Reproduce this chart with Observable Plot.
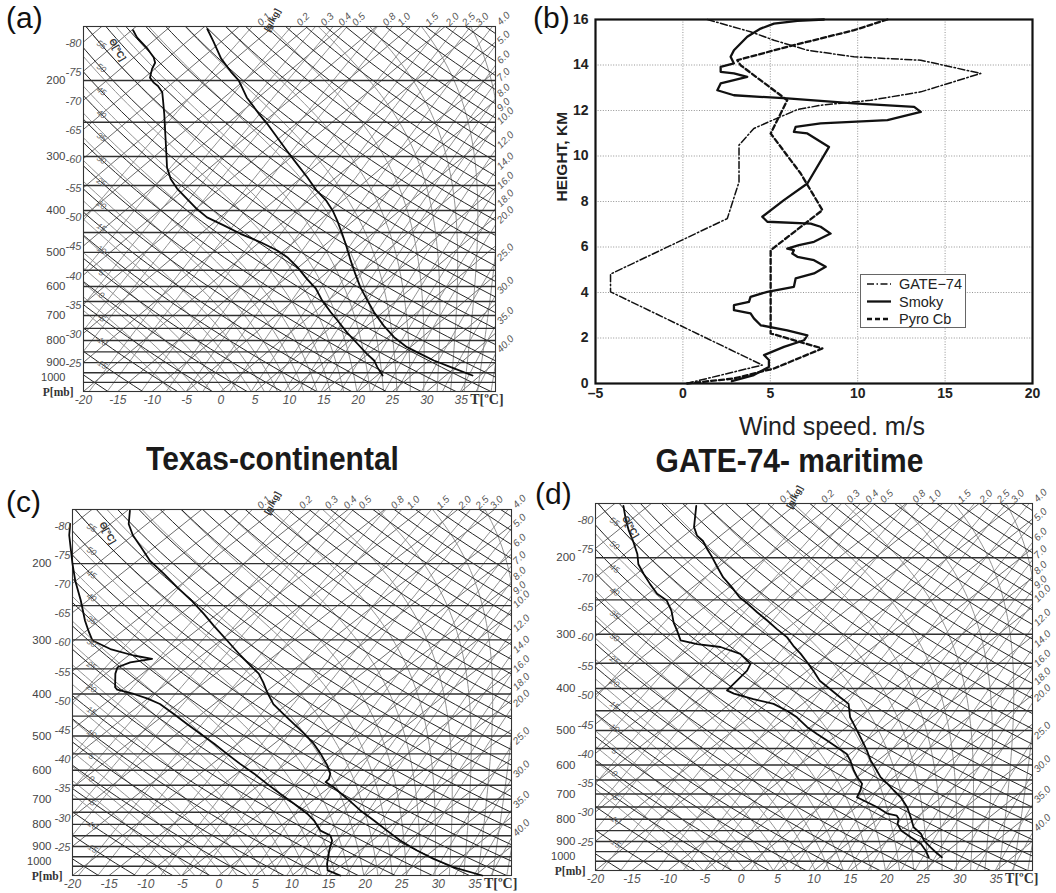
<!DOCTYPE html>
<html>
<head>
<meta charset="utf-8">
<script src="https://cdn.jsdelivr.net/npm/d3@7"></script>
<script src="https://cdn.jsdelivr.net/npm/@observablehq/plot@0.6"></script>
<style>
html,body{margin:0;padding:0;background:#fff;}
#root{position:relative;width:1056px;height:893px;overflow:hidden;background:#fff;font-family:Arial,"Liberation Sans",Helvetica,sans-serif;color:#111;}
.panel{position:absolute;}
.panel svg{overflow:visible;}
.lbl{position:absolute;white-space:nowrap;line-height:1;}
</style>
</head>
<body>
<div id="root"></div>
<script>
// ================= DATA =================
// skew-T axis values
const isobarLevels = [200,250,300,350,400,450,500,550,600,650,700,750,800,850,900,950,1000];
const pressureTickLabels = [200,300,400,500,600,700,800,900,1000];
const isothermLabelValues = [-80,-75,-70,-65,-60,-55,-50,-45,-40,-35,-30,-25];
const bottomTickValues = [-20,-15,-10,-5,0,5,10,15,20,25,30,35];
const mixingTopLabels = [0.1,0.2,0.3,0.4,0.5,0.8,1.0,1.5,2.0,2.5,3.0];
const mixingRightLabels = [4.0,5.0,6.0,7.0,8.0,9.0,10.0,12.0,14.0,16.0,18.0,20.0,25.0,30.0,35.0,40.0];
const dryAdiabatLabels = [-15,-10,-5,0,5,10,15,20,25,30,35,40,45,50,55];

// panel (a) sounding: [pressure hPa, temperature °C]
const panelA_temperature = [[152,-64.2],[162,-61.3],[178,-57.1],[191,-53.4],[200,-50.8],[209,-48.8],[219,-46.7],[239,-42.1],[252,-39.2],[271,-35.4],[291,-31.7],[312,-28.0],[335,-24.2],[360,-20.5],[379,-17.5],[400,-14.8],[422,-12.4],[453,-9.4],[487,-6.4],[522,-3.6],[561,-0.6],[602,2.4],[646,5.7],[688,8.7],[739,12.4],[786,15.9],[829,19.5],[859,22.6],[890,25.7],[922,29.3],[964,33.9]];
const panelA_dewpoint = [[153,-74.8],[159,-73.0],[168,-69.8],[177,-67.1],[182,-66.0],[188,-65.4],[197,-64.2],[202,-62.9],[206,-61.6],[213,-59.9],[223,-58.3],[239,-55.9],[266,-52.3],[296,-48.7],[318,-46.3],[338,-43.8],[356,-41.2],[376,-38.0],[397,-34.8],[415,-31.9],[433,-28.1],[453,-24.2],[474,-19.8],[495,-16.0],[513,-13.4],[541,-10.2],[576,-6.8],[607,-3.8],[646,-0.9],[688,2.4],[719,4.8],[766,8.2],[814,11.7],[859,14.8],[890,17.0],[922,18.6],[964,20.8]];

// panel (c) sounding
const panelC_temperature = [[151,-74.6],[162,-72.5],[172,-70.0],[183,-66.9],[197,-63.3],[211,-59.2],[227,-55.0],[243,-50.9],[261,-46.9],[278,-43.5],[301,-39.1],[326,-34.7],[344,-31.6],[359,-29.1],[376,-27.0],[396,-24.8],[422,-21.9],[445,-18.8],[469,-15.7],[494,-12.6],[521,-9.6],[550,-6.9],[585,-4.0],[611,-2.2],[628,-1.5],[639,-1.4],[657,0.6],[698,4.4],[743,8.2],[784,11.8],[827,15.3],[872,18.8],[919,22.8],[961,26.5],[1005,30.7],[1050,36.0]];
const panelC_dewpoint = [[162,-80.5],[172,-78.7],[200,-73.4],[219,-70.1],[243,-66.0],[271,-61.9],[288,-59.4],[301,-57.5],[315,-53.6],[326,-49.3],[332,-46.2],[338,-48.6],[347,-49.5],[359,-48.7],[386,-46.4],[391,-45.7],[400,-42.7],[410,-40.0],[422,-37.4],[445,-33.8],[469,-30.3],[494,-26.8],[521,-23.2],[550,-19.7],[580,-16.2],[611,-12.6],[645,-9.1],[680,-5.6],[717,-2.0],[756,1.5],[784,3.6],[827,6.2],[849,8.4],[872,9.5],[919,10.8],[987,12.8],[1022,14.0],[1050,16.6]];

// panel (d) sounding
const panelD_temperature = [[152,-68.4],[170,-65.1],[178,-63.2],[183,-61.5],[192,-59.3],[198,-57.8],[210,-55.1],[222,-52.5],[234,-49.6],[247,-46.8],[255,-44.7],[267,-41.9],[279,-39.1],[292,-36.3],[305,-33.5],[319,-31.2],[333,-28.8],[348,-26.5],[364,-24.2],[384,-21.6],[401,-18.8],[419,-16.0],[434,-13.7],[466,-11.2],[491,-8.8],[527,-5.6],[556,-3.2],[586,-1.0],[612,1.1],[640,3.2],[663,5.3],[687,7.3],[712,9.4],[751,12.0],[792,14.2],[835,16.3],[864,18.4],[896,20.0],[928,22.0],[953,23.6],[979,25.3]];
const panelD_dewpoint = [[152,-78.4],[164,-75.6],[173,-73.5],[183,-71.1],[196,-68.3],[207,-66.4],[218,-64.0],[230,-61.4],[242,-58.8],[251,-56.3],[265,-53.9],[282,-51.6],[294,-49.8],[310,-47.6],[316,-44.7],[321,-41.0],[333,-37.1],[351,-34.0],[364,-33.3],[384,-33.0],[404,-32.7],[411,-31.2],[423,-27.6],[434,-24.0],[450,-21.0],[466,-18.5],[491,-15.4],[509,-12.9],[527,-10.4],[546,-7.9],[566,-5.4],[586,-3.8],[618,-1.6],[640,0.0],[663,1.8],[687,2.7],[712,3.4],[751,7.9],[777,10.4],[785,12.0],[798,12.8],[820,13.5],[849,15.1],[880,17.6],[911,20.1],[944,21.9],[979,23.5]];

// panel (b) wind profiles: [speed m/s, height km]
const windSeriesNames = ["GATE\u221274","Smoky","Pyro Cb"];
const windGate74 = [[0.2,0],[4.54,0.81],[-4.14,4.03],[-4.14,4.81],[2.54,7.25],[3.21,8.86],[3.21,10.48],[4.06,11.21],[5.21,11.6],[6.55,12.04],[7.88,12.23],[10.74,12.45],[13.61,12.82],[17.04,13.63],[13.61,14.21],[9.79,14.36],[7.12,14.65],[5.21,15.09],[3.87,15.46],[1.39,16.0]];
const windSmoky = [[2.8,0.1],[4.06,0.37],[4.92,0.73],[4.92,1.03],[4.64,1.25],[5.78,1.61],[6.93,1.9],[7.12,2.12],[5.97,2.34],[4.45,2.56],[4.06,2.86],[3.87,3.08],[2.92,3.22],[2.92,3.44],[3.78,3.59],[3.87,3.81],[4.83,4.03],[6.35,4.25],[6.45,4.62],[7.5,4.84],[8.17,5.13],[7.5,5.42],[6.55,5.57],[6.26,5.71],[6.35,5.86],[5.97,5.93],[6.64,6.08],[7.5,6.23],[8.45,6.59],[7.88,6.89],[7.31,7.03],[4.83,7.11],[4.54,7.33],[5.78,8.06],[7.12,8.79],[8.36,10.4],[7.12,10.99],[6.35,11.06],[6.45,11.28],[7.88,11.43],[11.7,11.58],[13.61,11.94],[13.23,12.16],[9.79,12.31],[5.97,12.53],[2.92,12.67],[1.97,12.89],[2.16,13.19],[2.92,13.33],[3.68,13.48],[2.92,13.63],[2.16,13.7],[2.16,13.92],[2.92,14.07],[2.73,14.36],[2.92,14.65],[3.68,15.24],[4.45,15.6],[5.21,15.82],[6.55,15.94],[8.07,16.0]];
const windPyroCb = [[0.25,0],[2.92,0.22],[5.21,0.66],[7.98,1.54],[5.02,2.2],[5.02,5.86],[7.98,7.62],[6.74,9.23],[5.02,10.99],[5.97,12.45],[3.3,13.99],[3.11,14.21],[5.97,14.8],[9.79,15.53],[11.7,16.0]];
const windXTicks = [-5,0,5,10,15,20];
const windYTicks = [0,2,4,6,8,10,12,14,16];

// ================= SKEW-T GEOMETRY =================
const K = 32.2, PB = 1050, PT = 150, XMIN = -20, XMAX = 40;
const skewX = (T, p) => T + K * Math.log(PB / p);
const thetaT = (th, p) => (th + 273.15) * Math.pow(p / 1000, 0.2857) - 273.15;
const es = Tc => 6.112 * Math.exp(17.67 * Tc / (Tc + 243.5));
function tdFromW(w, p) { const r = w / 1000; const e = r * p / (0.622 + r); const l = Math.log(e / 6.112); return 243.5 * l / (17.67 - l); }
function dTdlnp(Tc, lp) {
  const p = Math.exp(lp), T = Tc + 273.15, e = es(Tc), r = 0.622 * e / (p - e);
  const Lv = 2.501e6, Rd = 287.04, cp = 1005.7, eps = 0.622;
  return (Rd * T + Lv * r) / (cp + Lv * Lv * r * eps / (Rd * T * T));
}
function moistCurve(T0) {
  let T = T0, lp = Math.log(1000);
  const H = Math.log(PB / 1000) / 10;
  for (let i = 0; i < 10; i++) { const k1 = dTdlnp(T, lp), k2 = dTdlnp(T + H * k1, lp + H); T += H * (k1 + k2) / 2; lp += H; }
  const pts = [{T, p: Math.exp(lp)}];
  const n = 90, h = (Math.log(PT) - Math.log(PB)) / n;
  for (let i = 0; i < n; i++) { const k1 = dTdlnp(T, lp), k2 = dTdlnp(T + h * k1, lp + h); T += h * (k1 + k2) / 2; lp += h; pts.push({T, p: Math.exp(lp)}); }
  return pts;
}
function logSpace(p0, p1, n) { const a = []; for (let i = 0; i <= n; i++) a.push(p0 * Math.pow(p1 / p0, i / n)); return a; }
function solveP(f) {
  let a = Math.log(PT), b = Math.log(PB), fa = f(PT), fb = f(PB);
  if (fa * fb > 0) return null;
  for (let i = 0; i < 50; i++) { const m = (a + b) / 2, fm = f(Math.exp(m)); if (fa * fm <= 0) { b = m; fb = fm; } else { a = m; fa = fm; } }
  return Math.exp((a + b) / 2);
}
const pGrid = logSpace(PB, PT, 60);
const isothermLines = d3.range(-90, 45, 5).flatMap(T => [PB, PT].map(p => ({id: T, T, p})));
const dryLines = d3.range(-25, 165, 5).flatMap(th => pGrid.map(p => ({id: th, T: thetaT(th, p), p})));
const moistLines = d3.range(-10, 41, 2).flatMap(T0 => moistCurve(T0).map(d => ({id: T0, ...d})));
const mixingValues = [...mixingTopLabels, ...mixingRightLabels];
const mixingLines = mixingValues.flatMap(w => pGrid.map(p => ({id: w, T: tdFromW(w, p), p})));
const rightLabelPos = mixingRightLabels.map(w => ({w, p: solveP(p => skewX(tdFromW(w, p), p) - XMAX) ?? PT}));
const dryLabelPos = dryAdiabatLabels.map(th => ({th, p: solveP(p => skewX(thetaT(th, p), p) + 17.4)})).filter(d => d.p && d.p < 1000);

const sx = d => skewX(d.T, d.p);
const grayTxt = "#555";

function skewTPanel(cfg) {
  const temp = cfg.temp.map(([p, T]) => ({p, T}));
  const dew = cfg.dew.map(([p, T]) => ({p, T}));
  const topDry = dryLabelPos.reduce((a, b) => (b.p < a.p ? b : a));
  const narrow = "'Liberation Sans Narrow','Arial Narrow',Arial,sans-serif";
  const pMain = pressureTickLabels.slice(0, -1);
  const pLast = pressureTickLabels.slice(-1);
  return Plot.plot({
    width: cfg.width, height: cfg.height,
    marginLeft: cfg.mL, marginTop: cfg.mT, marginRight: cfg.mR, marginBottom: cfg.mB,
    x: {domain: [XMIN, XMAX], axis: null},
    y: {type: "log", domain: [PB, PT], axis: null},
    style: {background: "transparent", overflow: "visible", fontFamily: "Arial, 'Liberation Sans', sans-serif"},
    marks: [
      Plot.line(isothermLines, {x: sx, y: "p", z: "id", stroke: "#6e6e6e", strokeWidth: 1.0, clip: true}),
      Plot.line(moistLines, {x: sx, y: "p", z: "id", stroke: "#878787", strokeWidth: 0.9, clip: true}),
      Plot.line(mixingLines, {x: sx, y: "p", z: "id", stroke: "#878787", strokeWidth: 0.9, clip: true}),
      Plot.line(dryLines, {x: sx, y: "p", z: "id", stroke: "#262626", strokeWidth: 1.0, clip: true}),
      Plot.ruleY(isobarLevels, {stroke: "#303030", strokeWidth: 1.4}),
      Plot.frame({stroke: "#333", strokeWidth: 1.1}),
      Plot.line(dew, {x: sx, y: "p", stroke: "#0a0a0a", strokeWidth: 1.8}),
      Plot.line(temp, {x: sx, y: "p", stroke: "#0a0a0a", strokeWidth: 1.8}),
      // bottom temperature labels
      Plot.text(bottomTickValues, {x: d => d, text: d => String(d), frameAnchor: "bottom", dy: 12, fontSize: 12, fontStyle: "italic", fill: grayTxt}),
      Plot.text([bottomTickValues[bottomTickValues.length - 1]], {x: d => d, text: () => "T[\u00baC]", frameAnchor: "bottom", dx: 9, dy: 12, textAnchor: "start", fontSize: 14, fontWeight: "bold", fontFamily: "'Liberation Serif','Times New Roman',serif", fill: "#333"}),
      // pressure labels
      Plot.text(pMain, {y: d => d, text: d => String(d), frameAnchor: "left", dx: -cfg.pdx, textAnchor: "end", fontSize: 11.5, fontFamily: narrow, fill: "#444"}),
      Plot.text(pLast, {y: d => d, text: d => String(d), frameAnchor: "left", dx: -cfg.pdx, dy: -5, textAnchor: "end", fontSize: 11, fontFamily: narrow, fill: "#444"}),
      Plot.text(["P[mb]"], {text: d => d, frameAnchor: "bottom-left", dx: -10, dy: 4, textAnchor: "end", fontSize: 11.5, fontWeight: "bold", fontFamily: "'Liberation Serif','Times New Roman',serif", fill: "#333"}),
      // isotherm labels at left edge
      Plot.text(isothermLabelValues, {y: T => PB * Math.exp((T + 20) / K), text: d => String(d), frameAnchor: "left", dx: -2, dy: 1, textAnchor: "end", fontSize: 11, fontStyle: "italic", fontFamily: narrow, fill: grayTxt}),
      // mixing ratio labels
      Plot.text(mixingTopLabels, {x: w => skewX(tdFromW(w, PT), PT), text: w => w.toFixed(1), frameAnchor: "top", dx: 4, dy: -5, rotate: -45, textAnchor: "start", fontSize: 10, fontStyle: "italic", fill: grayTxt}),
      Plot.text([mixingTopLabels[0]], {x: w => skewX(tdFromW(w, PT), PT), text: () => "[g/kg]", frameAnchor: "top", dx: 17, dy: -8, rotate: -62, textAnchor: "middle", fontSize: 9, fontWeight: "bold", fill: "#333"}),
      Plot.text(rightLabelPos, {y: "p", text: d => d.w.toFixed(1), frameAnchor: "right", dx: 3, dy: -3, rotate: -45, textAnchor: "start", fontSize: 10, fontStyle: "italic", fill: grayTxt}),
      // dry adiabat labels
      Plot.text(dryLabelPos, {x: () => -17.4, y: "p", text: d => String(d.th), rotate: 33, fontSize: 8.5, fontStyle: "italic", fill: "#666"}),
      Plot.text([topDry], {x: () => -17.4, y: "p", text: () => "\u0398[\u00baC]", dx: 16, dy: 5, rotate: 60, fontSize: 9.5, fontWeight: "bold", fill: "#333"})
    ]
  });
}

function windPanel() {
  const toPts = (arr, s) => arr.map(([v, h]) => ({v, h, s}));
  const gate = toPts(windGate74, windSeriesNames[0]);
  const smoky = toPts(windSmoky, windSeriesNames[1]);
  const pyro = toPts(windPyroCb, windSeriesNames[2]);
  return Plot.plot({
    width: 536, height: 440, marginLeft: 75, marginTop: 19, marginRight: 24, marginBottom: 57,
    x: {domain: [-5, 20], ticks: windXTicks, tickSize: 0, tickPadding: 5, label: null, tickFormat: d => d < 0 ? "\u2013" + Math.abs(d) : String(d)},
    y: {domain: [0, 16], ticks: windYTicks, tickSize: 0, tickPadding: 7, label: null},
    style: {background: "transparent", overflow: "visible", fontFamily: "Arial, 'Liberation Sans', Helvetica, sans-serif", fontSize: "14px", fontWeight: "bold", color: "#222"},
    marks: [
      Plot.ruleX(windXTicks.slice(1, -1), {stroke: "#888", strokeWidth: 0.9, strokeDasharray: "1,1.6"}),
      Plot.ruleY(windYTicks.slice(1, -1), {stroke: "#888", strokeWidth: 0.9, strokeDasharray: "1,1.6"}),
      Plot.line(gate, {x: "v", y: "h", stroke: "#111", strokeWidth: 1.5, strokeDasharray: "7,2.5,1.5,2.5"}),
      Plot.line(pyro, {x: "v", y: "h", stroke: "#111", strokeWidth: 2.3, strokeDasharray: "5,3"}),
      Plot.line(smoky, {x: "v", y: "h", stroke: "#111", strokeWidth: 2.3}),
      Plot.frame({stroke: "#111", strokeWidth: 2.2}),
      Plot.text(["HEIGHT, KM"], {text: d => d, frameAnchor: "left", dx: -33, rotate: -90, fontSize: 15.5, fontWeight: "bold", fill: "#222"})
    ]
  });
}

// ================= LAYOUT =================
const root = document.getElementById("root");
function place(node, left, top) { const d = document.createElement("div"); d.className = "panel"; d.style.left = left + "px"; d.style.top = top + "px"; d.appendChild(node); root.appendChild(d); }
function label(text, css) { const d = document.createElement("div"); d.className = "lbl"; d.textContent = text; Object.assign(d.style, css); root.appendChild(d); return d; }

place(skewTPanel({width: 520, height: 420, mL: 83, mT: 26, mR: 25, mB: 29, pdx: 18, temp: panelA_temperature, dew: panelA_dewpoint}), 0, 0);
place(windPanel(), 520, 0);
place(skewTPanel({width: 545, height: 453, mL: 72, mT: 69, mR: 34, mB: 18, pdx: 21, temp: panelC_temperature, dew: panelC_dewpoint}), 0, 440);
place(skewTPanel({width: 536, height: 453, mL: 75, mT: 63, mR: 24, mB: 23, pdx: 20, temp: panelD_temperature, dew: panelD_dewpoint}), 520, 440);

// legend for panel (b)
(function () {
  const box = document.createElement("div");
  box.className = "lbl";
  Object.assign(box.style, {left: "860px", top: "274px", width: "106px", height: "54px", border: "1px solid #666", background: "#fff", boxSizing: "border-box"});
  const dashes = ["7,2.5,1.5,2.5", null, "5,3"];
  const widths = [1.5, 2.3, 2.3];
  let svg = '<svg width="106" height="54" style="position:absolute;left:0;top:0">';
  windSeriesNames.forEach((n, i) => {
    const y = 9 + i * 17.5;
    svg += `<line x1="6" x2="30" y1="${y}" y2="${y}" stroke="#111" stroke-width="${widths[i]}" ${dashes[i] ? `stroke-dasharray="${dashes[i]}"` : ""}/>`;
    svg += `<text x="38" y="${y + 5}" font-size="14.5" font-family="Arial, 'Liberation Sans', sans-serif" fill="#222">${n}</text>`;
  });
  svg += "</svg>";
  box.innerHTML = svg;
  root.appendChild(box);
})();

// panel letters and titles
label("(a)", {left: "6px", top: "3px", fontSize: "30px"});
label("(b)", {left: "533px", top: "3px", fontSize: "30px"});
label("(c)", {left: "6px", top: "487px", fontSize: "30px"});
label("(d)", {left: "535px", top: "479px", fontSize: "30px"});
label("Wind speed. m/s", {left: "682px", top: "414px", width: "300px", textAlign: "center", fontSize: "25px", color: "#222"});
label("Texas-continental", {left: "0px", top: "445px", width: "545px", textAlign: "center", fontSize: "30px", fontWeight: "bold", color: "#1a1a1a", transform: "scaleY(1.12)", transformOrigin: "50% 85%"});
label("GATE-74- maritime", {left: "520px", top: "447px", width: "539px", textAlign: "center", fontSize: "30px", fontWeight: "bold", color: "#1a1a1a", transform: "scaleY(1.12)", transformOrigin: "50% 85%"});
</script>
</body>
</html>
